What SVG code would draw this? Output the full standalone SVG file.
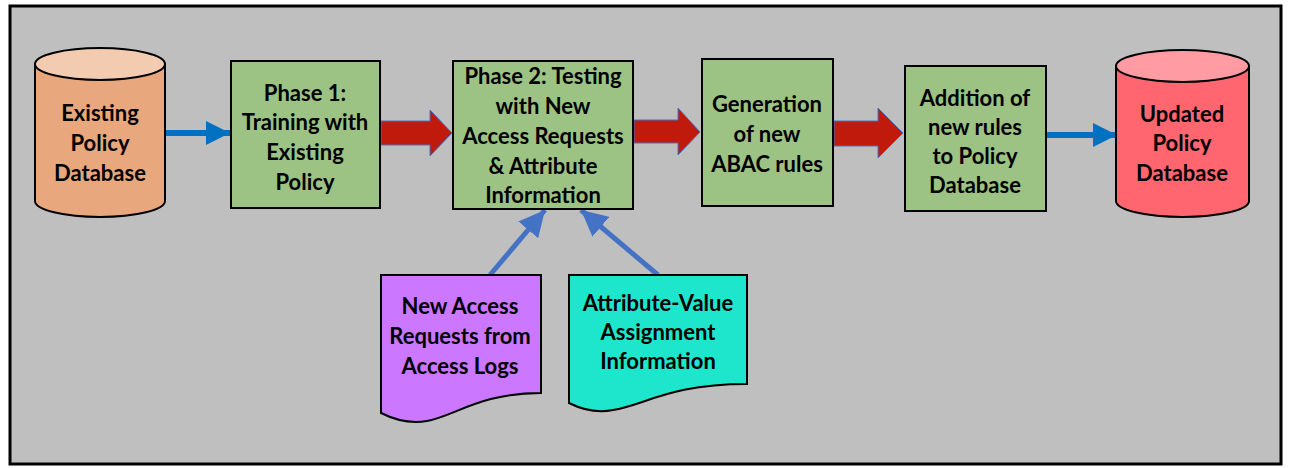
<svg xmlns="http://www.w3.org/2000/svg" width="1290" height="468" viewBox="0 0 1290 468">
<defs>
<style>
.t{font-family:Lato,"Liberation Sans",sans-serif;font-weight:bold;font-size:22px;fill:#000;text-anchor:middle;dominant-baseline:central}
.box{fill:#9dc384;stroke:#000;stroke-width:2}
.red{fill:#c01a0c;stroke:#4472c4;stroke-width:1}
.bl{stroke:#0070c0;stroke-width:6;fill:none}
.bd{stroke:#4472c4;stroke-width:5;fill:none}
.cyl{stroke:#000;stroke-width:2}
.doc{stroke:#000;stroke-width:2}
</style>
<marker id="ah" viewBox="0 0 10 10" refX="10" refY="5" markerUnits="userSpaceOnUse" markerWidth="24" markerHeight="26" orient="auto">
<path d="M0,0 L10,5 L0,10 Z" fill="#0070c0"/>
</marker>
<marker id="ad" viewBox="0 0 10 10" refX="10" refY="5" markerUnits="userSpaceOnUse" markerWidth="26" markerHeight="26" orient="auto">
<path d="M0,0 L10,5 L0,10 Z" fill="#4472c4"/>
</marker>
</defs>
<rect x="0" y="0" width="1290" height="468" fill="#fff"/>
<rect x="10" y="6" width="1271" height="458" fill="#bfbfbf" stroke="#000" stroke-width="3"/>

<g id="connectors">
<line class="bl" x1="166" y1="133" x2="230" y2="133" marker-end="url(#ah)"/>
<line class="bl" x1="1047" y1="135" x2="1117" y2="135" marker-end="url(#ah)"/>
<polygon class="red" points="381,121 430,121 430,110 452,133 430,156 430,145 381,145"/>
<polygon class="red" points="634,120 678,120 678,108 700,132 678,155 678,143 634,143"/>
<polygon class="red" points="834,121 878,121 878,108 903,133 878,158 878,146 834,146"/>
<line class="bd" x1="490" y1="275" x2="545" y2="210" marker-end="url(#ad)"/>
<line class="bd" x1="658" y1="275" x2="581" y2="210" marker-end="url(#ad)"/>
</g>

<g id="existing-db">
<path class="cyl" fill="#e8a77c" d="M35,64 V201 A65,16 0 0 0 165,201 V64 Z"/>
<ellipse class="cyl" fill="#f2cbb0" cx="100" cy="64" rx="65" ry="16"/>
<text class="t" x="100" y="112">Existing</text>
<text class="t" x="100" y="142">Policy</text>
<text class="t" x="100" y="172">Database</text>
</g>

<g id="phase1">
<rect class="box" x="231" y="61" width="149" height="147"/>
<text class="t" x="305" y="92">Phase 1:</text>
<text class="t" x="305" y="121">Training with</text>
<text class="t" x="305" y="151">Existing</text>
<text class="t" x="305" y="181">Policy</text>
</g>

<g id="phase2">
<rect class="box" x="453" y="61" width="180" height="148"/>
<text class="t" x="543" y="75">Phase 2: Testing</text>
<text class="t" x="543" y="105">with New</text>
<text class="t" x="543" y="135">Access Requests</text>
<text class="t" x="543" y="165">&amp; Attribute</text>
<text class="t" x="543" y="194">Information</text>
</g>

<g id="generation">
<rect class="box" x="702" y="59" width="131" height="147"/>
<text class="t" x="767" y="103">Generation</text>
<text class="t" x="767" y="133">of new</text>
<text class="t" x="767" y="163">ABAC rules</text>
</g>

<g id="addition">
<rect class="box" x="905" y="66" width="141" height="145"/>
<text class="t" x="975" y="97">Addition of</text>
<text class="t" x="975" y="126">new rules</text>
<text class="t" x="975" y="155">to Policy</text>
<text class="t" x="975" y="184">Database</text>
</g>

<g id="updated-db">
<path class="cyl" fill="#ff6670" d="M1116,66 V201 A66.5,16 0 0 0 1249,201 V66 Z"/>
<ellipse class="cyl" fill="#ff9ca3" cx="1182.5" cy="66" rx="66.5" ry="16"/>
<text class="t" x="1182" y="113">Updated</text>
<text class="t" x="1182" y="142">Policy</text>
<text class="t" x="1182" y="172">Database</text>
</g>

<g id="access-logs">
<path class="doc" fill="#cc77ff" d="M381,275 H541 V393 C480,393 455,416 427,421 C410,424 395,420 381,413 Z"/>
<text class="t" x="460" y="305">New Access</text>
<text class="t" x="460" y="335">Requests from</text>
<text class="t" x="460" y="365">Access Logs</text>
</g>

<g id="attribute-info">
<path class="doc" fill="#1ee6cc" d="M569,275 H747 V384 C670,384 645,405 613,410 C598,413 583,410 569,403 Z"/>
<text class="t" x="658" y="302">Attribute-Value</text>
<text class="t" x="658" y="331">Assignment</text>
<text class="t" x="658" y="360">Information</text>
</g>
</svg>
